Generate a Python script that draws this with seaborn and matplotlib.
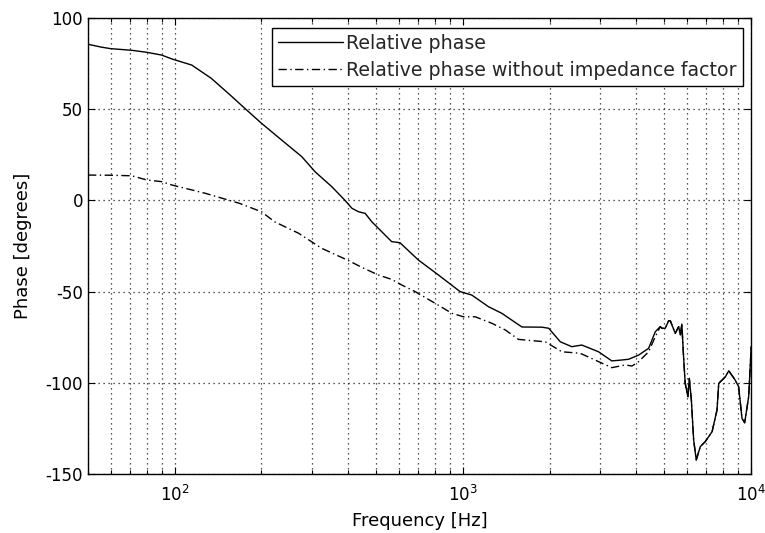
import numpy as np
import pandas as pd
import matplotlib
matplotlib.use("Agg")
import matplotlib.pyplot as plt
from matplotlib.ticker import LogLocator, NullFormatter
import seaborn as sns

# Relative phase (with impedance factor)
freq_rel = [50, 55.8, 60, 71, 80, 90, 98, 114.6, 134, 158, 175, 200, 235, 276, 307,
            351, 390, 412, 434, 458, 483, 509, 566, 605, 701, 823, 978, 1074, 1228,
            1365, 1603, 1880, 1986, 2178, 2389, 2588, 2958, 3289, 3564, 3760, 4074,
            4413, 4654, 4842, 4909, 5039, 5178, 5248, 5458, 5610, 5686, 5754, 5834,
            5910, 6040, 6109, 6209, 6324, 6457, 6668, 6934, 7328, 7621, 7727, 8147,
            8375, 8810, 9057, 9305, 9506, 9817, 9990, 10000]
phase_rel = [85.6, 84.0, 83.2, 82.3, 81.2, 79.7, 77.5, 74.2, 66.9, 56.9, 50.5, 42.3,
             33.1, 24.0, 15.7, 7.5, 0.0, -4.3, -6.2, -7.1, -11.7, -15.3, -22.6, -23.2,
             -32.7, -40.9, -50.0, -51.9, -58.3, -61.9, -69.4, -69.5, -70.1, -77.5,
             -80.2, -79.3, -83.0, -88.0, -87.5, -87.1, -84.8, -81.1, -72.0, -69.2,
             -70.1, -70.1, -66.0, -66.0, -72.9, -69.2, -73.8, -67.8, -85.7, -100.3,
             -107.6, -97.6, -109.4, -131.4, -142.3, -135.0, -132.3, -126.8, -114.9,
             -100.3, -96.7, -93.4, -98.5, -102.1, -119.5, -121.9, -107.6, -83.8, -80.2]

# Relative phase without impedance factor
freq_noimp = [50, 60, 71, 80, 90, 98, 127, 167, 200, 222, 269, 324, 401, 446, 509,
              566, 614, 683, 801, 916, 1005, 1104, 1262, 1403, 1560, 1738, 1932, 2207,
              2553, 2958, 3289, 3664, 3864, 4074, 4413, 4654, 4842, 4909, 5039, 5178,
              5248, 5458, 5610, 5686, 5754, 5834, 5910, 6040, 6109, 6209, 6324, 6457,
              6668, 6934, 7328, 7621, 7727, 8147, 8375, 8810, 9057, 9305, 9506, 9817,
              9990, 10000]
phase_noimp = [13.9, 13.8, 13.5, 11.2, 10.3, 8.4, 4.0, -1.5, -6.2, -11.7, -18.0,
               -26.3, -33.0, -36.7, -40.9, -43.3, -46.4, -50.0, -56.4, -61.9, -63.8,
               -63.8, -67.4, -71.0, -76.2, -76.9, -77.5, -83.0, -83.8, -88.4, -91.7,
               -90.2, -90.8, -88.4, -83.0, -74.7, -69.2, -70.1, -70.1, -66.0, -66.0,
               -72.9, -69.2, -73.8, -67.8, -85.7, -100.3, -107.6, -97.6, -109.4,
               -131.4, -142.3, -135.0, -132.3, -126.8, -114.9, -100.3, -96.7, -93.4,
               -98.5, -102.1, -119.5, -121.9, -107.6, -83.8, -80.2]

label_rel = "Relative phase"
label_noimp = "Relative phase without impedance factor"
y_ticks = [-150, -100, -50, 0, 50, 100]

sns.set_theme(style="white")
plt.rcParams["font.family"] = ["DejaVu Sans"]
plt.rcParams["mathtext.fontset"] = "dejavusans"
plt.rcParams["axes.unicode_minus"] = False

fig = plt.figure(figsize=(7.65, 5.33), dpi=100)
ax = fig.add_axes([0.115, 0.1107, 0.8667, 0.8555])

df_rel = pd.DataFrame({"f": freq_rel, "p": phase_rel})
df_noimp = pd.DataFrame({"f": freq_noimp, "p": phase_noimp})

sns.lineplot(data=df_rel, x="f", y="p", ax=ax, color="black", linewidth=1.0,
             label=label_rel, sort=False, zorder=3)
sns.lineplot(data=df_noimp, x="f", y="p", ax=ax, color="black", linewidth=1.0,
             label=label_noimp, sort=False, zorder=3)
ax.lines[1].set_dashes((6, 2.5, 1, 2.5))

ax.set_xscale("log")
ax.set_xlim(50, 10000)
ax.set_ylim(-150, 100)
ax.set_yticks(y_ticks)
ax.xaxis.set_major_locator(LogLocator(base=10))
ax.xaxis.set_minor_locator(LogLocator(base=10, subs=np.arange(2, 10)))
ax.xaxis.set_minor_formatter(NullFormatter())

ax.grid(True, which="major", axis="both", linestyle=(0, (1, 3)), color="#222222",
        linewidth=0.9)
ax.grid(True, which="minor", axis="x", linestyle=(0, (1, 3)), color="#222222",
        linewidth=0.9)
ax.set_axisbelow(True)

ax.tick_params(axis="both", which="both", direction="in", top=True, right=True,
               bottom=True, left=True, colors="black", labelsize=12)
ax.tick_params(which="major", length=5, width=0.8)
ax.tick_params(which="minor", length=3, width=0.8)
ax.tick_params(axis="x", which="major", pad=8)

for s in ax.spines.values():
    s.set_color("black")
    s.set_linewidth(1.0)

ax.set_xlabel("Frequency [Hz]", fontsize=13, color="black", labelpad=5)
ax.set_ylabel("Phase [degrees]", fontsize=13, color="black", labelpad=10)

leg = ax.legend(loc="upper right", bbox_to_anchor=(0.988, 0.978), fontsize=13.7,
                frameon=True, fancybox=False, shadow=False, framealpha=1,
                edgecolor="black", handlelength=3.4, handletextpad=0.2,
                borderpad=0.32, labelspacing=0.42, borderaxespad=0)
leg.get_frame().set_linewidth(1.0)

fig.savefig("out.png", dpi=100, facecolor="white")
